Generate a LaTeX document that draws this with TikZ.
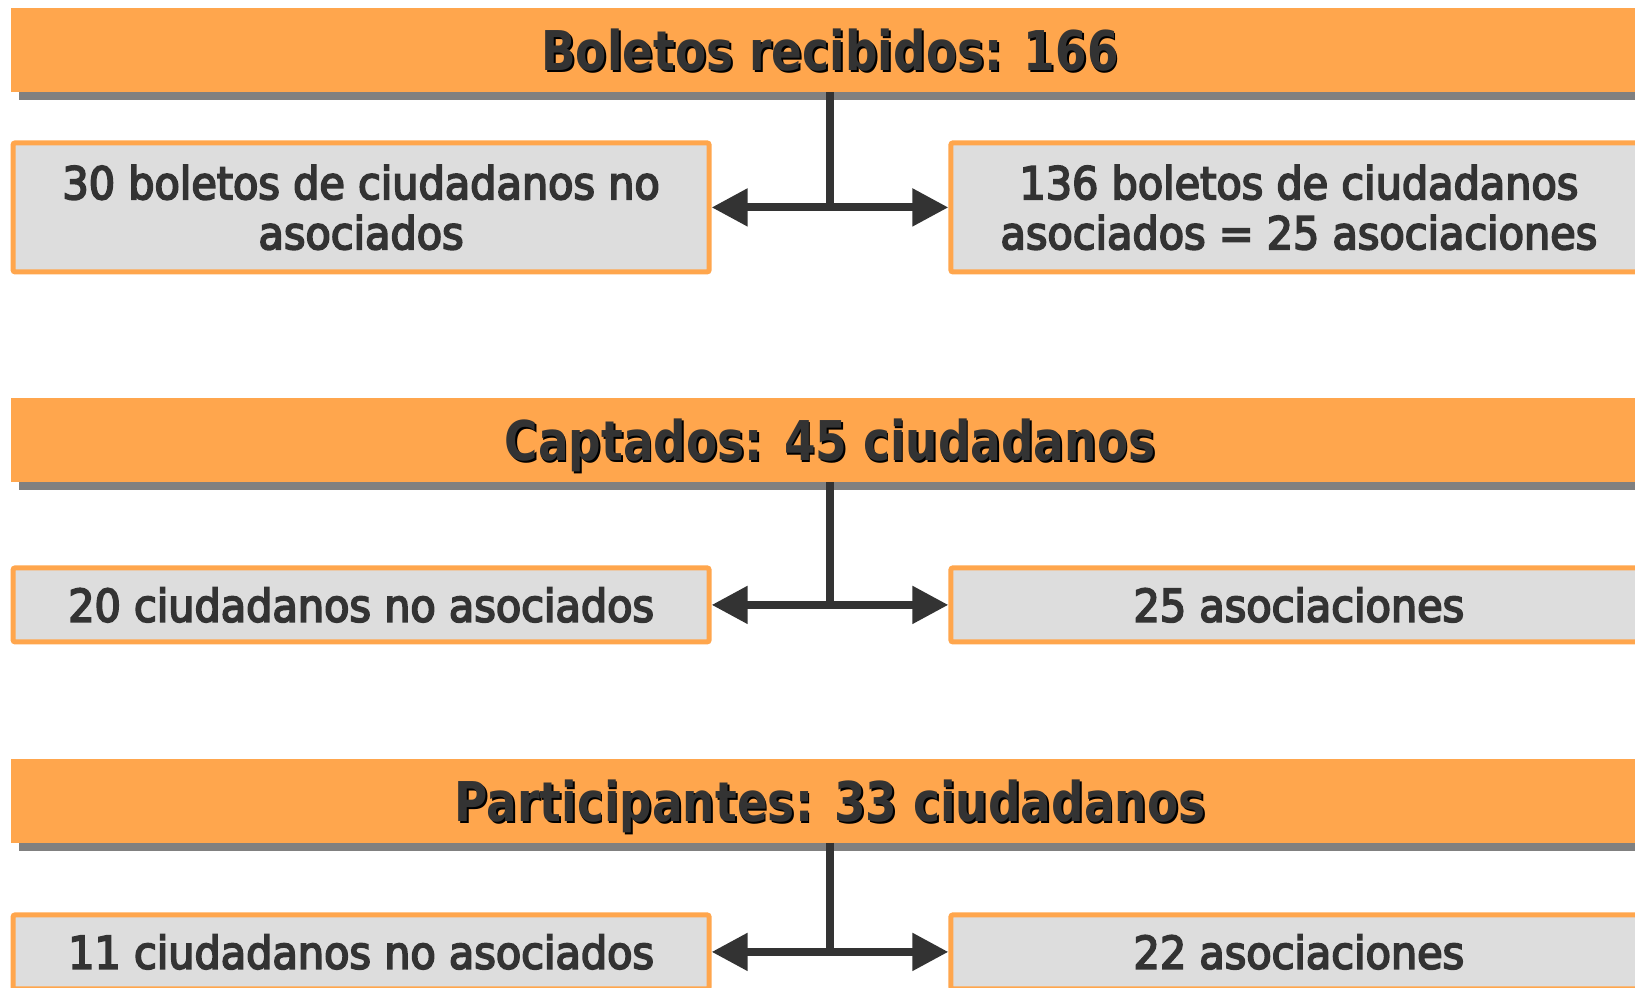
\documentclass[tikz,border=0pt]{standalone}
\usepackage{fontspec}
\setmainfont{DejaVu Sans}[FakeStretch=0.92, FakeBold=4]
\newfontfamily\bannerfont{DejaVu Sans}[FakeStretch=0.83]
\usepackage{tikz}
\usetikzlibrary{arrows.meta}
\usetikzlibrary{shadows}
\usetikzlibrary{positioning}

\definecolor{barorange}{RGB}{255,166,77}
\definecolor{shadowgray}{RGB}{128,128,128}
\definecolor{boxgray}{RGB}{221,221,221}
\definecolor{inkgray}{RGB}{51,51,51}

\newcommand{\conSombra}[1]{\makebox[0pt][l]{\hspace{0.9pt}\raisebox{-0.9pt}{\color{black}#1}}#1}

\begin{document}
\begin{tikzpicture}
          [x=0.5pt, y=-0.5pt,
           banner/.style={fill=barorange, minimum width=819pt, minimum height=42pt, inner sep=0pt,
             text height=20.8pt, text depth=0pt, text=inkgray,
             font=\bannerfont\bfseries\fontsize{27.4pt}{30pt}\selectfont,
             drop shadow={shadow xshift=4pt, shadow yshift=-4pt, fill=shadowgray, opacity=1}},
           box/.style={draw=barorange, line width=2.5pt, fill=boxgray, rounded corners=1pt,
             minimum width=348pt, minimum height=37pt, inner sep=0pt, align=center, text=inkgray,
             font=\fontsize{22.5pt}{25pt}\selectfont},
           tallbox/.style={box, minimum height=64.5pt},
           link/.style={draw=inkgray, line width=4pt},
           >={Triangle[length=18pt, width=18pt]}]
          \useasboundingbox (0,0) rectangle (1635,987);
          \clip (0,0) rectangle (1635,987);
          \fill[white] (0,0) rectangle (1635,987);

          \node[banner] (b1) at (830,50) {\conSombra{Boletos recibidos: 166}};
          \node[tallbox] (l1) [below right=24pt and 0pt of b1.south west] {30 boletos de ciudadanos no\\asociados};
          \node[tallbox] (r1) [below left=24pt and 0pt of b1.south east] {136 boletos de ciudadanos\\asociados = 25 asociaciones};

          \node[banner] (b2) at (830,440) {\conSombra{Captados: 45 ciudadanos}};
          \node[box] (l2) [below right=41.5pt and 0pt of b2.south west] {20 ciudadanos no asociados};
          \node[box] (r2) [below left=41.5pt and 0pt of b2.south east] {25 asociaciones};

          \node[banner] (b3) at (830,800.5) {\conSombra{Participantes: 33 ciudadanos}};
          \node[box] (l3) [below right=34.75pt and 0pt of b3.south west] {11 ciudadanos no asociados};
          \node[box] (r3) [below left=34.75pt and 0pt of b3.south east] {22 asociaciones};

          \coordinate (j1) at (b1.south |- l1.east);
          \coordinate (j2) at (b2.south |- l2.east);
          \coordinate (j3) at (b3.south |- l3.east);

          \draw[link] (b1.south) -- (j1);
          \draw[link, <->] (l1) -- (r1);
          \draw[link] (b2.south) -- (j2);
          \draw[link, <->] (l2) -- (r2);
          \draw[link] (b3.south) -- (j3);
          \draw[link, <->] (l3) -- (r3);

        \end{tikzpicture}
\end{document}
